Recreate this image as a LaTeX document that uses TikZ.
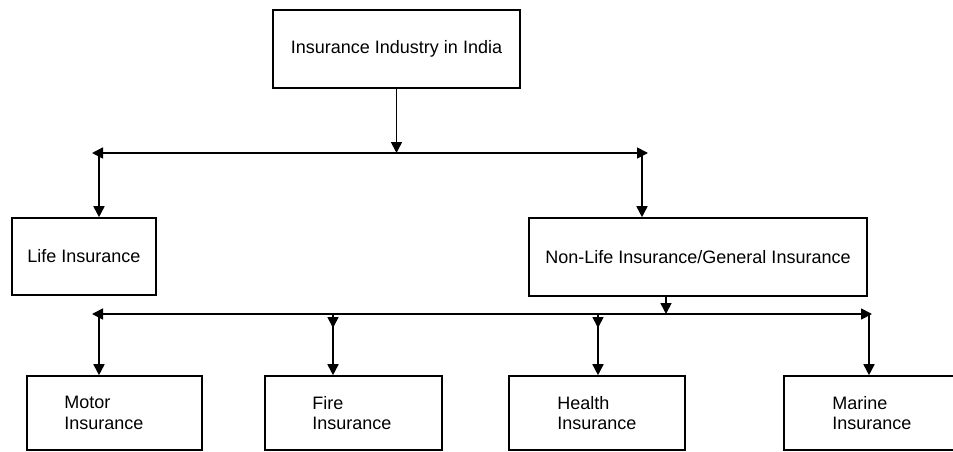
\documentclass[tikz,border=0pt]{standalone}
\usepackage{fontspec}
\setmainfont{Liberation Sans}
\usetikzlibrary{arrows.meta}
\tikzset{
  box/.style={draw, line width=1.6pt, rectangle, inner sep=0pt, font=\fontsize{18}{20.5}\selectfont},
  btext/.style={anchor=west, align=left, inner sep=0pt, font=\fontsize{18}{20.5}\selectfont},
  conn/.style={line width=1.7pt},
  arr/.style={conn, -{Triangle[length=11pt,width=11pt]}},
  darr/.style={conn, {Triangle[length=11pt,width=11pt]}-{Triangle[length=11pt,width=11pt]}}
}
\begin{document}
\begin{tikzpicture}[x=1pt,y=-1pt]
\useasboundingbox (0,0) rectangle (953,452);
\clip (0,0) rectangle (953,452);
\fill[white] (0,0) rectangle (953,452);
% main nodes
\node[box, minimum width=247pt, minimum height=78pt] (top) at (396.5,49) {Insurance Industry in India};
\node[box, minimum width=144pt, minimum height=77pt] (life) at (84,256.5) {Life Insurance};
\node[box, minimum width=338pt, minimum height=78pt] (nonlife) at (698,257) {Non-Life Insurance/General Insurance};
\node[box, minimum width=175pt, minimum height=74pt] (motor) at (114.5,413) {};
\node[box, minimum width=177pt, minimum height=74pt] (fire) at (353.5,413) {};
\node[box, minimum width=176pt, minimum height=74pt] (health) at (597,413) {};
\node[box, minimum width=212pt, minimum height=74pt] (marine) at (890,413) {};
\node[btext] (motort) at ([xshift=38pt]motor.west) {Motor\\Insurance};
\node[btext] (firet) at ([xshift=48pt]fire.west) {Fire\\Insurance};
\node[btext] (healtht) at ([xshift=49pt]health.west) {Health\\Insurance};
\node[btext] (marinet) at ([xshift=49pt]marine.west) {Marine\\Insurance};
% junction coordinates
\coordinate (j1) at (396.5,153);
\coordinate (t1L) at (92,153);
\coordinate (t1R) at (648,153);
\coordinate (c1L) at (99,153);
\coordinate (c1R) at (642,153);
\coordinate (j2) at (666,314);
\coordinate (t2L) at (92,314);
\coordinate (t2R) at (872,314);
\coordinate (c2M) at (99,314);
\coordinate (c2F) at (333,314);
\coordinate (c2H) at (598,314);
\coordinate (c2R) at (869,314);
% first level
\draw[arr] (top.south) -- (j1);
\draw[darr] (t1L) -- (t1R);
\draw[arr] (c1L) -- (c1L |- life.north);
\draw[arr] (c1R) -- (c1R |- nonlife.north);
% second level
\draw[arr] (nonlife.south -| j2) -- (j2);
\draw[darr] (t2L) -- (t2R);
\draw[arr] (c2M) -- (c2M |- motor.north);
\draw[arr] (c2F) -- (c2F |- fire.north);
\draw[arr] (c2F) -- ++(0,14);
\draw[arr] (c2H) -- (c2H |- health.north);
\draw[arr] (c2H) -- ++(0,14);
\draw[arr] (c2R) -- (c2R |- marine.north);
\end{tikzpicture}
\end{document}
